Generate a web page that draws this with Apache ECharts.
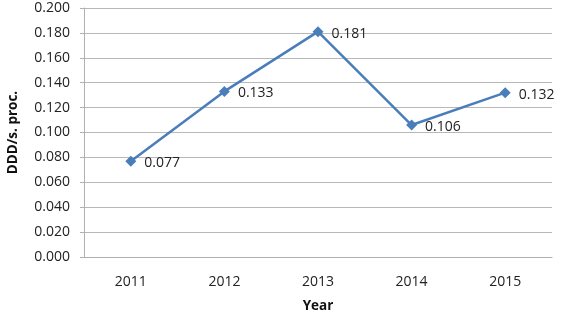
<!DOCTYPE html>
<html><head><meta charset="utf-8">
<script src="https://cdn.jsdelivr.net/npm/echarts@6/dist/echarts.min.js"></script>
<style>html,body{margin:0;padding:0;background:#fff}#c{width:561px;height:316px}</style>
</head><body><div id="c"></div>
<script>
var categories = ['2011', '2012', '2013', '2014', '2015'];
var values = [0.077, 0.133, 0.181, 0.106, 0.132];
var yTicks = [0, 0.02, 0.04, 0.06, 0.08, 0.1, 0.12, 0.14, 0.16, 0.18, 0.2];
var font = '"Open Sans", sans-serif';
var chart = echarts.init(document.getElementById('c'), null, {renderer: 'canvas'});
chart.setOption({
  animation: false,
  grid: {left: 84, right: 9, top: 8, bottom: 59, containLabel: false, outerBoundsMode: 'none'},
  xAxis: {
    type: 'category', data: categories, boundaryGap: true,
    name: 'Year', nameLocation: 'middle', nameGap: 42,
    nameTextStyle: {fontFamily: font, fontSize: 13.5, fontWeight: 'bold', color: '#111'},
    axisLine: {lineStyle: {color: '#b0b0b0', width: 1}},
    axisTick: {show: false},
    axisLabel: {fontFamily: font, fontSize: 14, color: '#222', margin: 18}
  },
  yAxis: {
    type: 'value', min: 0, max: 0.2, interval: 0.02,
    name: 'DDD/s. proc.', nameLocation: 'middle', nameGap: 64, nameRotate: 90,
    nameTextStyle: {fontFamily: font, fontSize: 13.5, fontWeight: 'bold', color: '#111'},
    axisLine: {show: true, lineStyle: {color: '#b0b0b0', width: 1}},
    axisTick: {show: true, length: 4, lineStyle: {color: '#b0b0b0'}},
    splitLine: {lineStyle: {color: '#b8b8b8', width: 1}},
    axisLabel: {fontFamily: font, fontSize: 14, color: '#222', margin: 14,
      formatter: function (v) { return v.toFixed(3); }}
  },
  series: [{
    type: 'line', data: values,
    symbol: 'diamond', symbolSize: 11,
    lineStyle: {color: '#4a7ebb', width: 2.5},
    itemStyle: {color: '#4a7ebb'},
    label: {show: true, position: 'right', distance: 8, offset: [0, 2],
      fontFamily: font, fontSize: 14, color: '#222',
      formatter: function (p) { return p.value.toFixed(3); }}
  }]
});
</script></body></html>
